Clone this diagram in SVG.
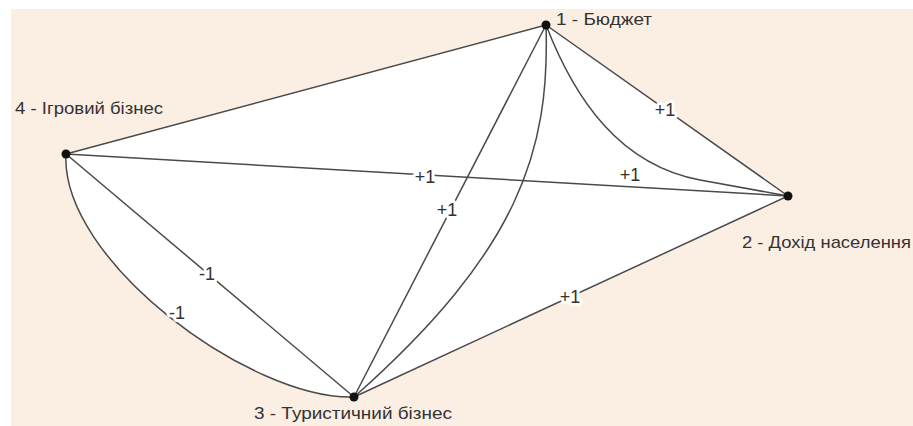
<svg xmlns="http://www.w3.org/2000/svg" width="913" height="426" viewBox="0 0 913 426">
<style>
.edge{fill:none;stroke:#4a4a4a;stroke-width:1.5}
.node{fill:#111}
.nlabel{font-family:"Liberation Sans",Arial,sans-serif;font-size:17px;fill:#333}
.elabel{font-family:"Liberation Sans",Arial,sans-serif;font-size:18px;fill:#333;text-anchor:middle;paint-order:stroke;stroke:#fff;stroke-width:6px;stroke-linejoin:round}
</style>
<rect x="0" y="0" width="913" height="426" fill="#fff"/>
<rect x="11" y="9" width="902" height="417" fill="#fbeee3"/>
<path d="M66,154 L546,25 L788,196 L354,397 C250,400 60,260 66,154 Z" fill="#fff"/>
<g id="connectors">
<line class="edge" x1="66" y1="154" x2="546" y2="25"/>
<line class="edge" x1="546" y1="25" x2="788" y2="196"/>
<path class="edge" d="M546,25 C575,100 620,165 700,180 L788,196"/>
<line class="edge" x1="66" y1="154" x2="788" y2="196"/>
<line class="edge" x1="546" y1="25" x2="354" y2="397"/>
<path class="edge" d="M546,25 C550,150 520,250 354,397"/>
<line class="edge" x1="66" y1="154" x2="354" y2="397"/>
<path class="edge" d="M66,154 C60,260 250,400 354,397"/>
<line class="edge" x1="354" y1="397" x2="788" y2="196"/>
<text class="elabel" x="665" y="116">+1</text>
<text class="elabel" x="630" y="181">+1</text>
<text class="elabel" x="425" y="183">+1</text>
<text class="elabel" x="447" y="216">+1</text>
<text class="elabel" x="207" y="280">-1</text>
<text class="elabel" x="177" y="319">-1</text>
<text class="elabel" x="570" y="303">+1</text>
</g>
<g id="node1"><circle class="node" cx="546" cy="25" r="4.5"/><text class="nlabel" x="556" y="25" textLength="96" lengthAdjust="spacingAndGlyphs">1 - Бюджет</text></g>
<g id="node2"><circle class="node" cx="788" cy="196" r="4.5"/><text class="nlabel" x="742" y="248" textLength="169" lengthAdjust="spacingAndGlyphs">2 - Дохід населення</text></g>
<g id="node3"><circle class="node" cx="354" cy="397" r="4.5"/><text class="nlabel" x="254" y="419" textLength="198" lengthAdjust="spacingAndGlyphs">3 - Туристичний бізнес</text></g>
<g id="node4"><circle class="node" cx="66" cy="154" r="4.5"/><text class="nlabel" x="15" y="114" textLength="148" lengthAdjust="spacingAndGlyphs">4 - Ігровий бізнес</text></g>
</svg>
